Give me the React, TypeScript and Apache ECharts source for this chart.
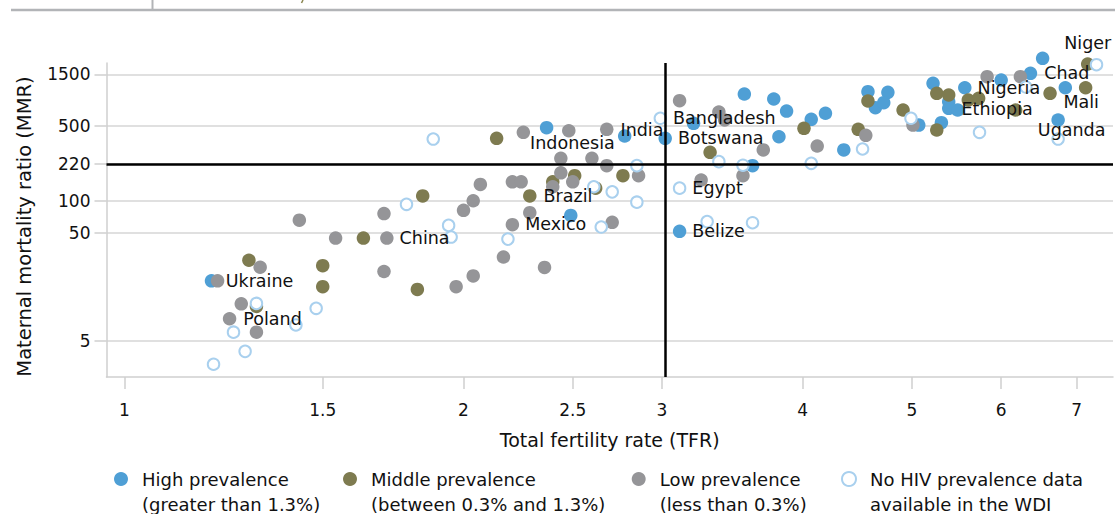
import React, { useEffect, useRef } from 'react';
import * as echarts from 'echarts';

type Pt = [number, number] | [number, number, string];

// [total fertility rate, maternal mortality ratio, optional country label]
const highPrevalence: Pt[] = [
  [1.195, 18, 'Ukraine'], [2.37, 478], [2.78, 400], [2.49, 73], [3.02, 381, 'Botswana'],
  [3.2, 525], [3.11, 52, 'Belize'], [3.55, 983], [3.77, 884], [3.87, 683], [4.07, 572],
  [4.19, 651], [3.81, 394], [3.61, 212], [4.35, 297], [4.57, 1033], [4.76, 1020],
  [4.64, 733], [4.72, 817], [5.07, 506], [5.31, 532], [5.22, 1237], [5.57, 1125, 'Nigeria'],
  [5.39, 724, 'Ethiopia'], [5.49, 698], [5.39, 835], [6.0, 1327], [6.37, 1532, 'Chad'],
  [6.53, 2112], [6.84, 1125], [6.74, 564, 'Uganda'],
];

const middlePrevalence: Pt[] = [
  [1.29, 28], [1.31, 10.4], [1.5, 24.9], [1.5, 15.9], [1.63, 45], [1.82, 15], [1.84, 111],
  [2.14, 381], [2.29, 111, 'Brazil'], [2.4, 150], [2.51, 171], [2.62, 131], [2.77, 171],
  [3.31, 282], [4.01, 472], [4.48, 462], [4.57, 847], [4.91, 698], [5.26, 455], [5.26, 998],
  [5.39, 963], [5.61, 865], [5.73, 897], [6.18, 698], [6.63, 998, 'Mali'], [7.13, 1125],
  [7.16, 1869, 'Niger'],
];

const lowPrevalence: Pt[] = [
  [1.21, 18], [1.32, 24.1], [1.27, 11], [1.24, 8, 'Poland'], [1.31, 6], [1.43, 66],
  [1.54, 45], [1.71, 45, 'China'], [1.7, 76], [1.7, 22], [2.0, 81.5], [2.04, 100],
  [2.07, 142], [1.97, 15.9], [2.04, 20], [2.17, 30], [2.36, 24], [2.21, 60, 'Mexico'],
  [2.29, 77.5], [2.21, 150], [2.25, 150], [2.4, 135], [2.44, 248], [2.44, 182], [2.5, 150],
  [2.6, 248], [2.68, 212], [2.86, 171], [2.71, 63], [2.26, 433, 'Indonesia'], [2.48, 448],
  [2.68, 462, 'India'], [3.11, 852], [3.37, 669], [3.41, 564], [3.25, 156], [3.54, 171],
  [3.69, 297], [4.12, 323], [4.55, 406], [5.01, 506], [5.83, 1424], [6.24, 1424],
];

const noPrevalenceData: Pt[] = [
  [1.2, 3.02], [1.28, 3.98], [1.25, 6], [1.31, 11.1], [1.42, 7], [1.48, 10], [1.78, 92.7],
  [1.88, 375], [1.94, 59], [1.95, 46], [2.19, 44], [2.61, 135], [2.71, 121], [2.85, 212],
  [2.85, 97], [2.65, 57], [2.99, 585, 'Bangladesh'], [3.11, 131, 'Egypt'], [3.29, 64],
  [3.61, 62.5], [3.37, 231], [3.54, 214], [4.07, 223], [4.52, 303], [4.99, 585],
  [5.74, 433], [6.74, 375], [7.29, 1841], [6.31, 1142],
];

const seriesNames = [
  'High prevalence\n(greater than 1.3%)',
  'Middle prevalence\n(between 0.3% and 1.3%)',
  'Low prevalence\n(less than 0.3%)',
  'No HIV prevalence data\navailable in the WDI',
];

const xTicks = [1, 1.5, 2, 2.5, 3, 4, 5, 6, 7];
const yTicks = [5, 50, 100, 220, 500, 1500];
const xRange = [0.9643, 7.54];
const yRange = [2.298, 1910];
const tfrThreshold = 3;
const mmrThreshold = 220;

const xTitle = 'Total fertility rate (TFR)';
const yTitle = 'Maternal mortality ratio (MMR)';

// label placement (styling only)
const labelPlacement: Record<string, { position: string; offset: [number, number] }> = {
  Ukraine: { position: 'right', offset: [2.5, 0] },
  Poland: { position: 'right', offset: [2, 0.3] },
  China: { position: 'right', offset: [1, 0] },
  Brazil: { position: 'right', offset: [2, 0] },
  Mexico: { position: 'right', offset: [1, -1] },
  Indonesia: { position: 'right', offset: [-5, 11] },
  India: { position: 'right', offset: [2, 0.7] },
  Bangladesh: { position: 'right', offset: [1, 0] },
  Botswana: { position: 'right', offset: [1, 0] },
  Egypt: { position: 'right', offset: [1, 0] },
  Belize: { position: 'right', offset: [1, 0] },
  Nigeria: { position: 'right', offset: [1, 0] },
  Ethiopia: { position: 'right', offset: [1, 0.7] },
  Chad: { position: 'right', offset: [2, 0] },
  Mali: { position: 'right', offset: [1.6, 8.4] },
  Uganda: { position: 'right', offset: [-32, 10] },
  Niger: { position: 'top', offset: [0, 0] },
};

const FONT = 'DejaVu Sans';
const lg = Math.log10;

function toData(pts: Pt[]) {
  return pts.map((p) => {
    const item: any = { value: [lg(p[0]), lg(p[1])] };
    const name = p[2];
    if (name) {
      const lp = labelPlacement[name];
      item.label = {
        show: true,
        formatter: name,
        position: lp.position,
        distance: 5,
        offset: lp.offset,
        color: '#111',
        opacity: 1,
        textBorderWidth: 0,
        textBorderColor: 'transparent',
      };
    }
    return item;
  });
}

export default function App() {
  const ref = useRef<HTMLDivElement>(null);
  useEffect(() => {
    if (!ref.current) return;
    const chart = echarts.init(ref.current, undefined, { renderer: 'svg' });

    const labelStyle = {
      color: '#111',
      fontFamily: FONT,
      fontSize: 17.5,
      textBorderWidth: 0,
      textBorderColor: 'transparent',
    };
    const scatter = (name: string, pts: Pt[], size: number, itemStyle: any) => ({
      name,
      type: 'scatter',
      data: toData(pts),
      symbol: 'circle',
      symbolSize: size,
      clip: false,
      z: 3,
      silent: true,
      itemStyle: { opacity: 1, ...itemStyle },
      label: labelStyle,
      emphasis: { disabled: true },
    });

    const legendBase = (name: string, left: number, itemStyle?: any) => ({
      left,
      top: 441.5,
      padding: 0,
      itemWidth: 14,
      itemHeight: 14,
      icon: 'circle',
      selectedMode: false,
      formatter: (n: string) => '\n' + n,
      data: [itemStyle ? { name, itemStyle } : { name }],
      textStyle: {
        fontFamily: FONT,
        fontSize: 18,
        color: '#111',
        lineHeight: 25,
        padding: [0, 0, 0, 9],
      },
    });

    const openStyle = { color: '#fff', borderColor: '#a9d0ee', borderWidth: 2 };

    chart.setOption({
      animation: false,
      textStyle: { fontFamily: FONT },
      grid: { left: 106.5, top: 63, width: 1006.5, height: 314, containLabel: false },
      xAxis: {
        type: 'value',
        min: lg(xRange[0]),
        max: lg(xRange[1]),
        name: xTitle,
        nameLocation: 'middle',
        nameGap: 53,
        nameTextStyle: { fontFamily: FONT, fontSize: 19, color: '#111' },
        axisLine: { show: true, onZero: false, lineStyle: { color: '#cfcfcf', width: 1.5 } },
        axisTick: {
          show: true,
          length: 12,
          customValues: xTicks.map(lg),
          lineStyle: { color: '#cfcfcf', width: 1.5 },
        },
        axisLabel: {
          customValues: xTicks.map(lg),
          margin: 24,
          fontFamily: FONT,
          fontSize: 17,
          color: '#111',
          formatter: (v: number) => String(Math.round(Math.pow(10, v) * 10) / 10),
        },
        splitLine: { show: false },
      },
      yAxis: {
        type: 'value',
        min: lg(yRange[0]),
        max: lg(yRange[1]),
        name: yTitle,
        nameLocation: 'middle',
        nameGap: 72,
        nameTextStyle: { fontFamily: FONT, fontSize: 19.5, color: '#111', padding: [0, 13, 0, 0] },
        axisLine: { show: true, onZero: false, lineStyle: { color: '#cfcfcf', width: 1.5 } },
        axisTick: {
          show: true,
          length: 12,
          customValues: yTicks.map(lg),
          lineStyle: { color: '#cfcfcf', width: 1.5 },
        },
        axisLabel: {
          customValues: yTicks.map(lg),
          margin: 16,
          fontFamily: FONT,
          fontSize: 17,
          color: '#111',
          formatter: (v: number) => String(Math.round(Math.pow(10, v))),
        },
        splitLine: { show: true, lineStyle: { color: '#d6d6d6', width: 1.5 } },
      },
      legend: [
        legendBase(seriesNames[0], 114),
        legendBase(seriesNames[1], 343),
        legendBase(seriesNames[2], 631.7),
        legendBase(seriesNames[3], 841, openStyle),
      ],
      graphic: [
        { type: 'line', shape: { x1: 11, y1: 10, x2: 1115, y2: 10 }, style: { stroke: '#b2b4b7', lineWidth: 2.5 } },
        { type: 'line', shape: { x1: 152.5, y1: 0, x2: 152.5, y2: 10 }, style: { stroke: '#b2b4b7', lineWidth: 2 } },
        { type: 'line', shape: { x1: 303, y1: 0, x2: 301.5, y2: 3 }, style: { stroke: '#8a8650', lineWidth: 1.5 } },
      ],
      series: [
        {
          name: 'thresholds',
          type: 'scatter',
          data: [],
          z: 1,
          silent: true,
          markLine: {
            silent: true,
            symbol: 'none',
            label: { show: false },
            lineStyle: { color: '#000', width: 2.5, type: 'solid' },
            emphasis: { disabled: true },
            data: [{ xAxis: lg(tfrThreshold) }, { yAxis: lg(mmrThreshold) }],
          },
        },
        scatter(seriesNames[0], highPrevalence, 13.5, { color: '#4f9fd5' }),
        scatter(seriesNames[1], middlePrevalence, 13.5, { color: '#7e7b50' }),
        scatter(seriesNames[2], lowPrevalence, 13.5, { color: '#959598' }),
        scatter(seriesNames[3], noPrevalenceData, 11.5, openStyle),
      ],
    });
    return () => chart.dispose();
  }, []);

  return (
    <div
      ref={ref}
      style={{ position: 'absolute', left: 0, top: 0, width: 1115, height: 514, background: '#fff' }}
    />
  );
}
